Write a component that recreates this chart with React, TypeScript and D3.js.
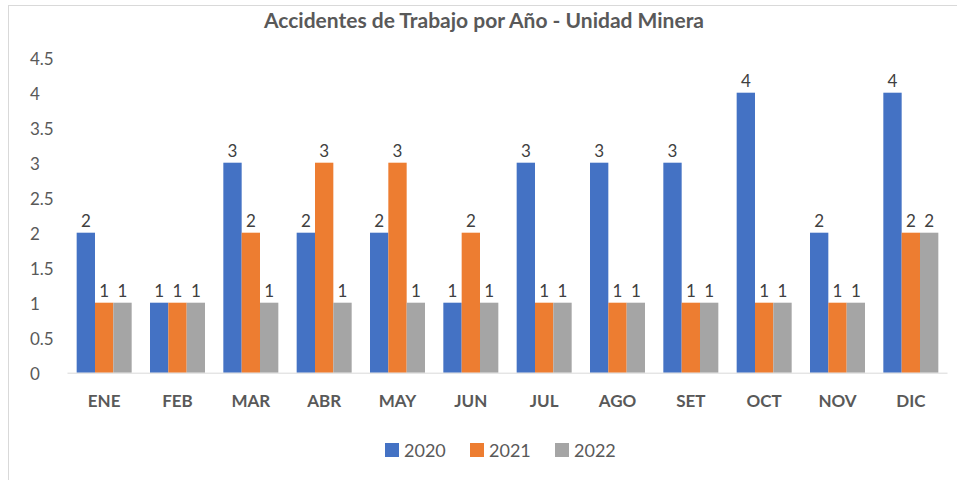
import * as d3 from 'd3';
import React, { useEffect, useRef } from 'react';

const months = ["ENE", "FEB", "MAR", "ABR", "MAY", "JUN", "JUL", "AGO", "SET", "OCT", "NOV", "DIC"];
const years = ["2020", "2021", "2022"];
const v2020 = [2, 1, 3, 2, 2, 1, 3, 3, 3, 4, 2, 4];
const v2021 = [1, 1, 2, 3, 3, 2, 1, 1, 1, 1, 1, 2];
const v2022 = [1, 1, 1, 1, 1, 1, 1, 1, 1, 1, 1, 2];
const yTicks = [0, 0.5, 1, 1.5, 2, 2.5, 3, 3.5, 4, 4.5];
const colors = ["#4472C4", "#ED7D31", "#A5A5A5"];

const W = 957;
const H = 480;
const font = "Lato, 'Open Sans', sans-serif";

export default function App() {
  const svgRef = useRef(null);

  useEffect(() => {
    const svg = d3.select(svgRef.current);
    svg.selectAll("*").remove();

    const series = [v2020, v2021, v2022];
    const margin = { top: 57.7, left: 67.5, right: 9.5, bottom: 107.3 };

    // chart border (top + left only visible)
    svg.append("rect")
      .attr("x", 8.5).attr("y", 5.5)
      .attr("width", 1200).attr("height", 1200)
      .attr("fill", "white")
      .attr("stroke", "#D9D9D9");

    const x = d3.scaleBand<string>().domain(months)
      .range([margin.left, W - margin.right]).paddingInner(0.25).paddingOuter(0.125);
    const x1 = d3.scaleBand<string>().domain(years).range([0, x.bandwidth()]);
    const y = d3.scaleLinear().domain([0, 4.5]).range([H - margin.bottom, margin.top]);

    // title
    svg.append("text")
      .attr("x", 484).attr("y", 28)
      .attr("text-anchor", "middle")
      .attr("font-family", font).attr("font-weight", "bold").attr("font-size", 21)
      .attr("fill", "#595959")
      .text("Accidentes de Trabajo por Año - Unidad Minera");

    // y ticks
    svg.append("g").selectAll("text").data(yTicks).join("text")
      .attr("x", 30).attr("y", d => y(d) + 1)
      .attr("dy", "0.35em")
      .attr("font-family", font).attr("font-size", 17)
      .attr("fill", "#595959")
      .text(d => `${d}`);

    // bars
    const groups = svg.append("g").selectAll("g").data(months).join("g")
      .attr("transform", d => `translate(${x(d)},0)`);

    series.forEach((vals, si) => {
      groups.append("rect")
        .attr("x", x1(years[si])!)
        .attr("y", (_, i) => y(vals[i]))
        .attr("width", x1.bandwidth())
        .attr("height", (_, i) => y(0) - y(vals[i]))
        .attr("fill", colors[si]);
      groups.append("text")
        .attr("x", x1(years[si])! + x1.bandwidth() / 2)
        .attr("y", (_, i) => y(vals[i]) - 6)
        .attr("text-anchor", "middle")
        .attr("font-family", font).attr("font-size", 17)
        .attr("fill", "#404040")
        .text((_, i) => `${vals[i]}`);
    });

    // x axis line
    svg.append("line")
      .attr("x1", margin.left).attr("x2", W - margin.right)
      .attr("y1", y(0) + 0.5).attr("y2", y(0) + 0.5)
      .attr("stroke", "#D9D9D9");

    // x labels
    svg.append("g").selectAll("text").data(months).join("text")
      .attr("x", d => x(d)! + x.bandwidth() / 2)
      .attr("y", 401)
      .attr("dy", "0.35em")
      .attr("text-anchor", "middle")
      .attr("font-family", font).attr("font-weight", "bold").attr("font-size", 17)
      .attr("fill", "#595959")
      .text(d => d);

    // legend
    const legend = svg.append("g").selectAll("g").data(years).join("g")
      .attr("transform", (_, i) => `translate(${385 + i * 85},450)`);
    legend.append("rect")
      .attr("x", 0).attr("y", -7)
      .attr("width", 14).attr("height", 14)
      .attr("fill", (_, i) => colors[i]);
    legend.append("text")
      .attr("x", 19).attr("y", 1).attr("dy", "0.35em")
      .attr("font-family", font).attr("font-size", 18)
      .attr("fill", "#595959")
      .text(d => d);
  }, []);

  return (
    <svg ref={svgRef} width={W} height={H}
      style={{ position: "absolute", left: 0, top: 0, background: "white" }} />
  );
}
